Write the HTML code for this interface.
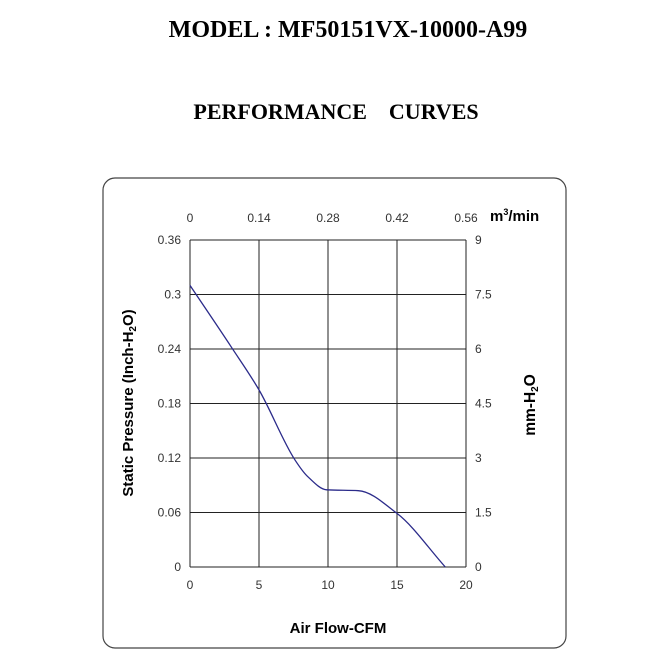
<!DOCTYPE html>
<html><head><meta charset="utf-8"><style>
body{margin:0;background:#fff;width:666px;height:666px;overflow:hidden}
svg text{font-family:"Liberation Sans",sans-serif}
</style></head><body>
<svg width="666" height="666" viewBox="0 0 666 666">
<text x="348" y="37" text-anchor="middle" font-size="24" font-weight="bold" style="font-family:'Liberation Serif',serif">MODEL : MF50151VX-10000-A99</text>
<text x="336" y="119" text-anchor="middle" font-size="22" font-weight="bold" style="font-family:'Liberation Serif',serif;white-space:pre" xml:space="preserve">PERFORMANCE    CURVES</text>
<rect x="103" y="178" width="463" height="470" rx="12" fill="none" stroke="#444" stroke-width="1.2"/>
<g id="grid"></g>
<g id="labels"></g>
<path id="curve" fill="none" stroke="#2b2b8a" stroke-width="1.3"/>
<text x="490" y="221" font-size="15" font-weight="bold">m<tspan dy="-6" font-size="9">3</tspan><tspan dy="6">/min</tspan></text>
<text transform="translate(133,403) rotate(-90)" text-anchor="middle" font-size="15" font-weight="bold">Static Pressure (Inch-H<tspan dy="3" font-size="10">2</tspan><tspan dy="-3">O)</tspan></text>
<text transform="translate(535,405) rotate(-90)" text-anchor="middle" font-size="15.5" font-weight="bold">mm-H<tspan dy="3" font-size="10">2</tspan><tspan dy="-3">O</tspan></text>
<text x="338" y="633" text-anchor="middle" font-size="15" font-weight="bold">Air Flow-CFM</text>
</svg>
<script>
const xTicks=[0,5,10,15,20];
const topTicks=["0","0.14","0.28","0.42","0.56"];
const yTicks=[0,0.06,0.12,0.18,0.24,0.3,0.36];
const yTickLabels=["0","0.06","0.12","0.18","0.24","0.3","0.36"];
const rightTickLabels=["0","1.5","3","4.5","6","7.5","9"];
const flowCFM=[0,3,5,7.6,8.5,9.9,12.2,15,18.5];
const pressure=[0.310,0.242,0.195,0.118,0.100,0.085,0.084,0.059,0];
const X0=190,X1=466,Y0=567,Y1=240;
const sx=v=>X0+(v-0)/20*(X1-X0);
const sy=v=>Y0-v/0.36*(Y0-Y1);
const NS="http://www.w3.org/2000/svg";
const grid=document.getElementById('grid'),labels=document.getElementById('labels');
function mk(tag,attrs,parent){const e=document.createElementNS(NS,tag);for(const k in attrs)e.setAttribute(k,attrs[k]);parent.appendChild(e);return e;}
xTicks.forEach((t,i)=>{
  const l=mk('line',{x1:sx(t),x2:sx(t),y1:Y1,y2:Y0,stroke:'#222','stroke-width':1},grid);
  
  
  const b=mk('text',{x:sx(t),y:Y0+22,'text-anchor':'middle','font-size':12,fill:'#333'},labels);b.textContent=t;
  
  
  const tp=mk('text',{x:sx(t),y:222,'text-anchor':'middle','font-size':12,fill:'#333'},labels);tp.textContent=topTicks[i];
  
  
});
yTicks.forEach((t,i)=>{
  const l=mk('line',{x1:X0,x2:X1,y1:sy(t),y2:sy(t),stroke:'#222','stroke-width':1},grid);
  
  
  const a=mk('text',{x:X0-9,y:sy(t)+4,'text-anchor':'end','font-size':12,fill:'#333'},labels);a.textContent=yTickLabels[i];
  
  
  const r=mk('text',{x:X1+9,y:sy(t)+4,'text-anchor':'start','font-size':12,fill:'#333'},labels);r.textContent=rightTickLabels[i];
  
  
});
// monotone cubic (Fritsch-Carlson) interpolation in data space
const n=flowCFM.length,h=[],dl=[],m=[];
for(let i=0;i<n-1;i++){h[i]=flowCFM[i+1]-flowCFM[i];dl[i]=(pressure[i+1]-pressure[i])/h[i];}
m[0]=dl[0];m[n-1]=dl[n-2];
for(let i=1;i<n-1;i++){
  if(dl[i-1]*dl[i]<=0)m[i]=0;
  else{const w1=2*h[i]+h[i-1],w2=h[i]+2*h[i-1];m[i]=(w1+w2)/(w1/dl[i-1]+w2/dl[i]);}
}
let d='M'+sx(flowCFM[0])+','+sy(pressure[0]);
for(let i=0;i<n-1;i++){
  const x1=flowCFM[i]+h[i]/3,y1=pressure[i]+m[i]*h[i]/3;
  const x2=flowCFM[i+1]-h[i]/3,y2=pressure[i+1]-m[i+1]*h[i]/3;
  d+=' C'+sx(x1)+','+sy(y1)+' '+sx(x2)+','+sy(y2)+' '+sx(flowCFM[i+1])+','+sy(pressure[i+1]);
}
document.getElementById('curve').setAttribute('d',d);
</script>
</body></html>
